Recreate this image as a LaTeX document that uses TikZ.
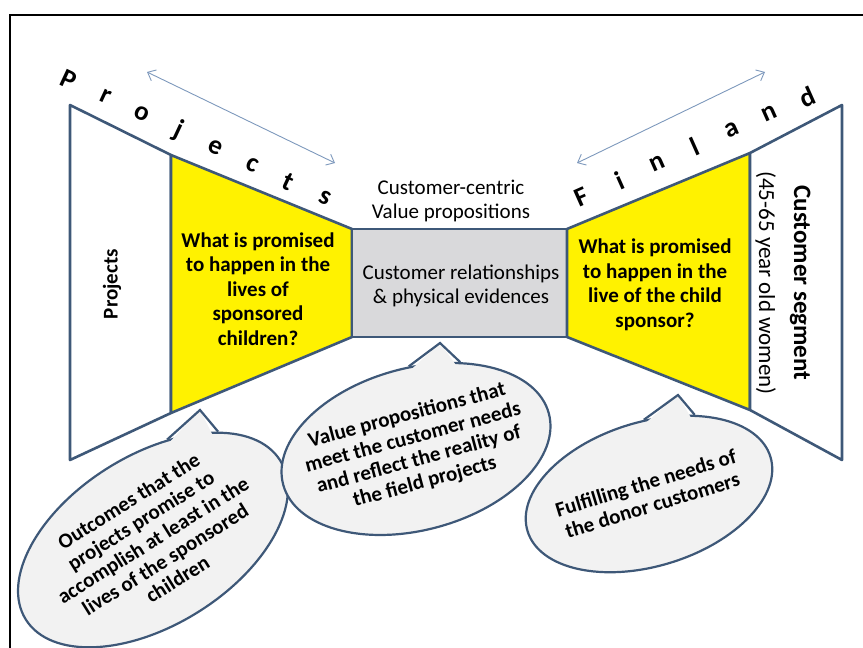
\documentclass[tikz,border=0pt]{standalone}
\usepackage{fontspec}
\setmainfont{Carlito}
\usepackage{tikz}
\usetikzlibrary{calc}
\usetikzlibrary{arrows.meta,shapes.geometric}
\definecolor{edgeblue}{RGB}{62,88,120}
\definecolor{arrowblue}{RGB}{125,152,188}
\definecolor{boxgray}{RGB}{217,217,219}
\definecolor{balloongray}{RGB}{242,242,242}
\def\stepx{36.6}
\def\stepy{16.9}

\begin{document}
\begin{tikzpicture}[x=1pt,y=-1pt,
  panel/.style={draw=edgeblue,line width=2.6,line join=round},
  spelled/.style={inner sep=0pt,font=\fontsize{27}{27}\selectfont\bfseries},
  qtext/.style={align=center,font=\fontsize{21}{24.5}\selectfont\bfseries},
  midtext/.style={align=center,font=\fontsize{21}{24.5}\selectfont},
  balloon/.style={ellipse,draw=edgeblue,fill=balloongray,line width=2.2,
    inner sep=-14pt,align=center,font=\fontsize{21}{23}\selectfont\bfseries},
  tailfill/.style={fill=balloongray},
  tailline/.style={draw=edgeblue,line width=2.2,line join=miter},
  dblarrow/.style={{Straight Barb[length=7pt,width=12pt]}-{Straight Barb[length=7pt,width=12pt]},
    draw=arrowblue,line width=0.9}]

\useasboundingbox (0,0) rectangle (863,648);
\draw[line width=1.3] (10,648) -- (10,15) -- (863,15);

% bow tie corners
\coordinate (la) at (70,105);
\coordinate (lb) at (171,155);
\coordinate (lc) at (171,413);
\coordinate (ld) at (70,460);
\coordinate (ma) at (352,229);
\coordinate (mb) at (567,229);
\coordinate (mc) at (567,337);
\coordinate (md) at (352,337);
\coordinate (ra) at (750,153);
\coordinate (rb) at (842,105);
\coordinate (rc) at (842,460);
\coordinate (rd) at (750,410);

\draw[panel,fill=white] (la) -- (lb) -- (lc) -- (ld) -- cycle;
\draw[panel,fill=yellow] (lb) -- (ma) -- (md) -- (lc) -- cycle;
\draw[panel,fill=boxgray] (ma) -- (mb) -- (mc) -- (md) -- cycle;
\draw[panel,fill=yellow] (mb) -- (ra) -- (rd) -- (mc) -- cycle;
\draw[panel,fill=white] (ra) -- (rb) -- (rc) -- (rd) -- cycle;

% spelled words along the top edges
\foreach \ch [count=\i from 0] in {P,r,o,j,e,c,t,s}
  \node[spelled,rotate=-25] (p\i) at ({69+\stepx*\i},{80+\stepy*\i}) {\ch};
\foreach \ch [count=\i from 0] in {F,i,n,l,a,n,d}
  \node[spelled,rotate=24] (f\i) at ({582+37.5*\i},{197-16.7*\i}) {\ch};

\coordinate (pa) at (147,72);
\coordinate (pb) at (335,163);
\coordinate (fa) at (577,163);
\coordinate (fb) at (765,72);
\draw[dblarrow] (pa) -- (pb);
\draw[dblarrow] (fa) -- (fb);

% texts in the panels
\node[qtext,rotate=90,font=\fontsize{21}{24}\selectfont\bfseries] (projects) at (112,284) {Projects};
\node[qtext] (leftq) at (258,289) {What is promised\\to happen in the\\lives of\\sponsored\\children?};
\node[midtext] (centric) at (451,201) {Customer-centric\\Value propositions};
\node[midtext] (relations) at (461,286) {Customer relationships\\\& physical evidences};
\node[qtext] (rightq) at (655,285) {What is promised\\to happen in the\\live of the child\\sponsor?};
\node[align=center,rotate=-90,font=\fontsize{23}{35}\selectfont] (segment) at (783,283)
  {{\fontsize{25}{35}\selectfont\bfseries Customer segment}\\(45-65 year old women)};

% balloons
\node[balloon,rotate=32,minimum width=300,minimum height=170] (outcomes) at (153,540)
  {Outcomes that the\\projects promise to\\accomplish at least in the\\lives of the sponsored\\children};
\node[balloon,rotate=15,minimum width=272,minimum height=162] (valueprop) at (416,449)
  {Value propositions that\\meet the customer needs\\and reflect the reality of\\the field projects};
\node[balloon,rotate=17,minimum width=254,minimum height=144] (donors) at (649,494)
  {Fulfilling the needs of\\the donor customers};

\coordinate (ta) at (200,410);
\coordinate (tb) at (440,343);
\coordinate (tc) at (678,395);

\fill[tailfill] ($(outcomes.center)!.94!(outcomes.50)$) -- (ta) -- ($(outcomes.center)!.94!(outcomes.27)$) -- cycle;
\draw[tailline] (outcomes.50) -- (ta) -- (outcomes.27);
\fill[tailfill] ($(valueprop.center)!.94!(valueprop.80)$) -- (tb) -- ($(valueprop.center)!.94!(valueprop.48)$) -- cycle;
\draw[tailline] (valueprop.80) -- (tb) -- (valueprop.48);
\fill[tailfill] ($(donors.center)!.94!(donors.77)$) -- (tc) -- ($(donors.center)!.94!(donors.43)$) -- cycle;
\draw[tailline] (donors.77) -- (tc) -- (donors.43);
\end{tikzpicture}
\end{document}
